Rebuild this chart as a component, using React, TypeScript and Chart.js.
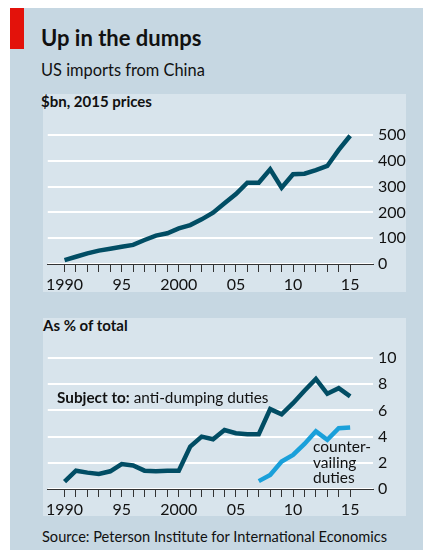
import React, { useEffect, useRef } from "react";
import { Chart, registerables } from "chart.js";

Chart.register(...registerables);

// ---- Data ----
const years = [1990, 1991, 1992, 1993, 1994, 1995, 1996, 1997, 1998, 1999, 2000, 2001, 2002, 2003, 2004, 2005, 2006, 2007, 2008, 2009, 2010, 2011, 2012, 2013, 2014, 2015];
const importsBn = [15, 28, 41, 52, 59, 67, 74, 93, 110, 119, 138, 151, 173, 199, 235, 271, 315, 315, 367, 296, 348, 350, 364, 380, 442, 497];
const antiDumpingPct = [0.56, 1.4, 1.25, 1.15, 1.35, 1.9, 1.8, 1.4, 1.35, 1.4, 1.4, 3.24, 4.0, 3.8, 4.5, 4.26, 4.18, 4.18, 6.1, 5.7, 6.55, 7.5, 8.4, 7.27, 7.7, 7.07];
const cvdYears = [2007, 2008, 2009, 2010, 2011, 2012, 2013, 2014, 2015];
const counterVailingPct = [0.6, 1.07, 2.1, 2.6, 3.44, 4.4, 3.75, 4.64, 4.7];
const tickYears = [1990, 1995, 2000, 2005, 2010, 2015];
const yearTickLabels = ["1990", "95", "2000", "05", "10", "15"];

const DARK = "#014d64";
const LIGHT = "#1aa0da";
const TEXT = "#111";
const FONT = "Lato, 'Open Sans', sans-serif";

Chart.defaults.font.family = FONT;

type DS = { xs: number[]; ys: number[]; color: string };

function LineChart(props: {
  width: number;
  height: number;
  series: DS[];
  yMax: number;
  yStep: number;
  padTop: number;
  xAxisHeight: number;
}) {
  const ref = useRef<HTMLCanvasElement | null>(null);
  useEffect(() => {
    if (!ref.current) return;
    const chart = new Chart(ref.current, {
      type: "line",
      data: {
        datasets: props.series.map((s) => ({
          data: s.xs.map((x, i) => ({ x, y: s.ys[i] })),
          borderColor: s.color,
          borderWidth: 4.5,
          pointRadius: 0,
          tension: 0,
          clip: false as any,
          fill: false,
        })),
      },
      options: {
        animation: false,
        responsive: false,
        devicePixelRatio: 1,
        layout: { padding: { top: props.padTop, left: 0, right: 0, bottom: 0 } },
        plugins: { legend: { display: false }, tooltip: { enabled: false }, title: { display: false } },
        scales: {
          x: {
            type: "linear",
            min: 1988.53,
            max: 2017,
            afterBuildTicks: (s: any) => {
              s.ticks = years.map((v) => ({ value: v }));
            },
            afterFit: (s: any) => {
              s.height = props.xAxisHeight;
            },
            ticks: {
              autoSkip: false,
              maxRotation: 0,
              padding: 3,
              color: TEXT,
              font: { size: 16, family: FONT },
              callback: (v: any) => {
                const i = tickYears.indexOf(Number(v));
                return i >= 0 ? yearTickLabels[i] : "";
              },
            },
            grid: { drawOnChartArea: false, drawTicks: true, tickLength: 8, color: "#333", tickColor: "#333", lineWidth: 1 },
            border: { display: true, color: "#333", width: 1 },
          },
          y: {
            position: "right",
            min: 0,
            max: props.yMax,
            afterFit: (s: any) => {
              s.width = 40;
            },
            ticks: { stepSize: props.yStep, padding: 5, color: TEXT, font: { size: 16, family: FONT } },
            grid: { color: "#ffffff", lineWidth: 2, drawTicks: false },
            border: { display: false },
          },
        },
      },
    });
    return () => chart.destroy();
  }, []);
  return <canvas ref={ref} width={props.width} height={props.height} style={{ display: "block", width: props.width, height: props.height }} />;
}

const abs = (left: number, top: number, extra: any = {}) => ({ position: "absolute" as const, left, top, ...extra });

export default function App() {
  return (
    <div style={abs(10, 8, { width: 413, height: 542, background: "#c6d7e2", fontFamily: FONT, color: TEXT, overflow: "hidden" })}>
      <div style={abs(0, 0, { width: 14, height: 41, background: "#e3120b" })} />
      <div style={abs(31, 19.3, { fontSize: 22, fontWeight: 700, lineHeight: 1, whiteSpace: "nowrap" })}>Up in the dumps</div>
      <div style={abs(31, 54, { fontSize: 16.4, lineHeight: 1, whiteSpace: "nowrap" })}>US imports from China</div>

      <div style={abs(33, 86, { width: 363, height: 198, background: "#d8e4ec" })} />
      <div style={abs(31, 86.4, { fontSize: 15, fontWeight: 700, lineHeight: 1, whiteSpace: "nowrap" })}>$bn, 2015 prices</div>
      <div style={abs(33, 102)}>
        <LineChart width={370} height={182} series={[{ xs: years, ys: importsBn, color: DARK }]} yMax={500} yStep={100} padTop={25} xAxisHeight={28} />
      </div>

      <div style={abs(33, 310, { width: 363, height: 198, background: "#d8e4ec" })} />
      <div style={abs(33, 310.4, { fontSize: 15, fontWeight: 700, lineHeight: 1, whiteSpace: "nowrap" })}>As % of total</div>
      <div style={abs(33, 327)}>
        <LineChart
          width={370}
          height={181}
          series={[
            { xs: years, ys: antiDumpingPct, color: DARK },
            { xs: cvdYears, ys: counterVailingPct, color: LIGHT },
          ]}
          yMax={10}
          yStep={2}
          padTop={23}
          xAxisHeight={27}
        />
      </div>
      <div style={abs(47, 382.4, { fontSize: 15.3, lineHeight: 1, whiteSpace: "nowrap" })}>
        <b>Subject to:</b> anti-dumping duties
      </div>
      <div style={abs(303, 431.3, { fontSize: 15.5, lineHeight: "15.5px", whiteSpace: "nowrap" })}>
        counter-
        <br />
        vailing
        <br />
        duties
      </div>

      <div style={abs(32, 521.6, { fontSize: 14.6, lineHeight: 1, whiteSpace: "nowrap" })}>Source: Peterson Institute for International Economics</div>
    </div>
  );
}
